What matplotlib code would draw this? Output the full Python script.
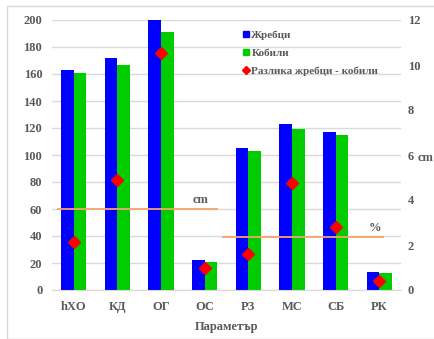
import numpy as np
import matplotlib
matplotlib.use('Agg')
import matplotlib.pyplot as plt
from matplotlib.lines import Line2D
from matplotlib.patches import Rectangle

categories = ['hXO', 'КД', 'ОГ', 'ОС', 'РЗ', 'МС', 'СБ', 'РК']
stallions = [163, 172, 200, 22, 105, 123, 117, 13]
mares = [161, 167, 191, 21, 103, 119, 115, 12.5]
difference = [2.15, 4.9, 10.52, 0.96, 1.6, 4.74, 2.81, 0.41]

plt.rcParams['font.family'] = ['Liberation Serif', 'DejaVu Serif']
txt = '#595959'

fig = plt.figure(figsize=(4.35, 3.39), dpi=100)
fig.patches.append(Rectangle((7/435, 0), 1, 1 - 6/339, transform=fig.transFigure,
                             fill=False, edgecolor='#d9d9d9', linewidth=1))
ax = fig.add_axes([52/435, 1 - 290/339, 349/435, 270/339])
ax2 = ax.twinx()

x = np.arange(len(categories))
w = 0.29
ax.bar(x - w/2, stallions, w, color='#0000FF', zorder=2, label='Жребци')
ax.bar(x + w/2, mares, w, color='#00CC00', zorder=2, label='Кобили')
ax2.plot(x, difference, linestyle='none', marker='D', markersize=6, color='#FF0000',
         zorder=3, label='Разлика жребци - кобили')

ax.set_xlim(-0.5, len(categories) - 0.5)
ax.set_ylim(0, 200)
ax2.set_ylim(0, 12)
ax.set_yticks(np.arange(0, 201, 20))
ax2.set_yticks(np.arange(0, 13, 2))
ax.yaxis.grid(True, color='#d9d9d9', linewidth=1, zorder=0)
ax.set_axisbelow(True)

# orange reference lines with units
ax.plot([-0.36, 3.28], [60, 60], color='#F4A46A', linewidth=1.3, zorder=4)
ax.text(2.9, 62, 'cm', fontsize=9, fontweight='bold', color=txt, ha='center', va='bottom')
ax.plot([3.42, 7.09], [39.5, 39.5], color='#F4A46A', linewidth=1.3, zorder=4)
ax.text(6.9, 41.5, '%', fontsize=9, fontweight='bold', color=txt, ha='center', va='bottom')

for a in (ax, ax2):
    for s in a.spines.values():
        s.set_visible(False)
    a.tick_params(length=0, labelsize=9, colors=txt)
    for lab in a.get_yticklabels():
        lab.set_fontweight('bold')
ax.spines['bottom'].set_visible(True)
ax.spines['bottom'].set_color('#d9d9d9')
ax.set_xticks(x)
ax.set_xticklabels(categories, fontweight='bold')
ax.tick_params(axis='x', pad=8)
ax.tick_params(axis='y', pad=7)
ax2.tick_params(axis='y', pad=5)
ax.set_xlabel('Параметър', fontsize=9, fontweight='bold', color=txt, labelpad=6)
ax2.set_ylabel('cm', fontsize=9, fontweight='bold', color=txt, rotation=0, va='center', ha='center')
ax2.yaxis.set_label_coords(1.069, 0.49)

handles = [Line2D([], [], linestyle='none', marker='s', markersize=4, color='#0000FF'),
           Line2D([], [], linestyle='none', marker='s', markersize=4, color='#00CC00'),
           Line2D([], [], linestyle='none', marker='D', markersize=4, color='#FF0000')]
leg = ax.legend(handles, ['Жребци', 'Кобили', 'Разлика жребци - кобили'],
                loc='upper left', bbox_to_anchor=(0.53, 0.98), frameon=False,
                prop={'size': 8, 'weight': 'bold'}, handletextpad=0.1,
                handlelength=0.8, labelspacing=0.75, borderaxespad=0)
for t in leg.get_texts():
    t.set_color(txt)

fig.savefig('out.png', dpi=100)
